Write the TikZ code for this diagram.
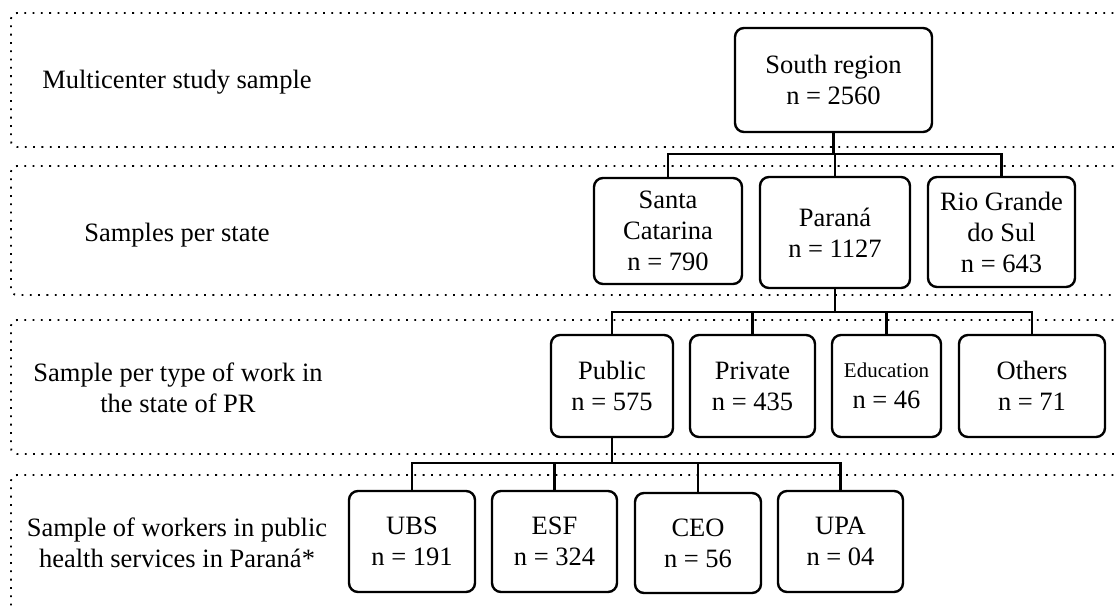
\documentclass[tikz,border=0pt]{standalone}
\usepackage{fontspec}
\setmainfont{Liberation Serif}
\begin{document}
\begin{tikzpicture}[x=1pt,y=-1pt,
  box/.style={draw, line width=2.4pt, rounded corners=9pt, align=center, inner sep=0pt,
              font=\fontsize{26.5}{31}\selectfont},
  lbl/.style={align=center, inner sep=0pt, font=\fontsize{26.5}{31}\selectfont},
  panel/.style={line width=1.8pt, dash pattern=on 1.8pt off 6.5pt, rounded corners=6pt},
  conn/.style={line width=2.4pt}]
\useasboundingbox (0,0) rectangle (1115,605);
\clip (0,0) rectangle (1115,605);

% panels
\draw[panel] (1130,13) -- (11,13) -- (11,147) -- (1130,147);
\draw[panel] (1130,166) -- (11,166) -- (11,295) -- (1130,295);
\draw[panel] (1130,320) -- (11,320) -- (11,454) -- (1130,454);
\draw[panel] (1130,475) -- (11,475) -- (11,640) -- (1130,640);

% panel labels
\node[lbl] (l1) at (177,82) {Multicenter study sample};
\node[lbl] (l2) at (177,235) {Samples per state};
\node[lbl] (l3) at (178,388) {Sample per type of work in\\the state of PR};
\node[lbl] (l4) at (177,543) {Sample of workers in public\\health services in Paraná*};

% level 1
\node[box, minimum width=197pt, minimum height=104pt] (S) at (833.5,80) {South region\\n = 2560};

% level 2
\node[box, minimum width=148pt, minimum height=106pt] (SC) at (668,231) {Santa\\Catarina\\n = 790};
\node[box, minimum width=150pt, minimum height=111pt] (PR) at (835,232.5) {Paraná\\n = 1127};
\node[box, minimum width=147pt, minimum height=110pt] (RS) at (1001.5,232) {Rio Grande\\do Sul\\n = 643};

% level 3
\node[box, minimum width=122pt, minimum height=102pt] (PU) at (612,386) {Public\\n = 575};
\node[box, minimum width=125pt, minimum height=102pt] (PV) at (752.5,386) {Private\\n = 435};
\node[box, minimum width=109pt, minimum height=102pt] (ED) at (886.5,386) {{\fontsize{21}{25}\selectfont Education}\\n = 46};
\node[box, minimum width=146pt, minimum height=102pt] (OT) at (1032,386) {Others\\n = 71};

% level 4
\node[box, minimum width=126pt, minimum height=101pt] (UBS) at (412,541.5) {UBS\\n = 191};
\node[box, minimum width=125pt, minimum height=101pt] (ESF) at (554.5,541.5) {ESF\\n = 324};
\node[box, minimum width=126pt, minimum height=100pt] (CEO) at (698,543) {CEO\\n = 56};
\node[box, minimum width=125pt, minimum height=101pt] (UPA) at (840.5,541.5) {UPA\\n = 04};

% junctions
\coordinate (j1) at (833.5,154);
\coordinate (j2) at (835,312);
\coordinate (j3) at (612,463);

% connectors level 1 -> 2
\draw[conn] (S.south) -- (j1);
\draw[conn] (SC.north) -- (SC.north |- j1) -- (RS.north |- j1) -- (RS.north);
\draw[conn] (PR.north) -- (PR.north |- j1);

% connectors level 2 -> 3
\draw[conn] (PR.south) -- (j2);
\draw[conn] (PU.north) -- (PU.north |- j2) -- (OT.north |- j2) -- (OT.north);
\draw[conn] (PV.north) -- (PV.north |- j2);
\draw[conn] (ED.north) -- (ED.north |- j2);

% connectors level 3 -> 4
\draw[conn] (PU.south) -- (j3);
\draw[conn] (UBS.north) -- (UBS.north |- j3) -- (UPA.north |- j3) -- (UPA.north);
\draw[conn] (ESF.north) -- (ESF.north |- j3);
\draw[conn] (CEO.north) -- (CEO.north |- j3);
\end{tikzpicture}
\end{document}
